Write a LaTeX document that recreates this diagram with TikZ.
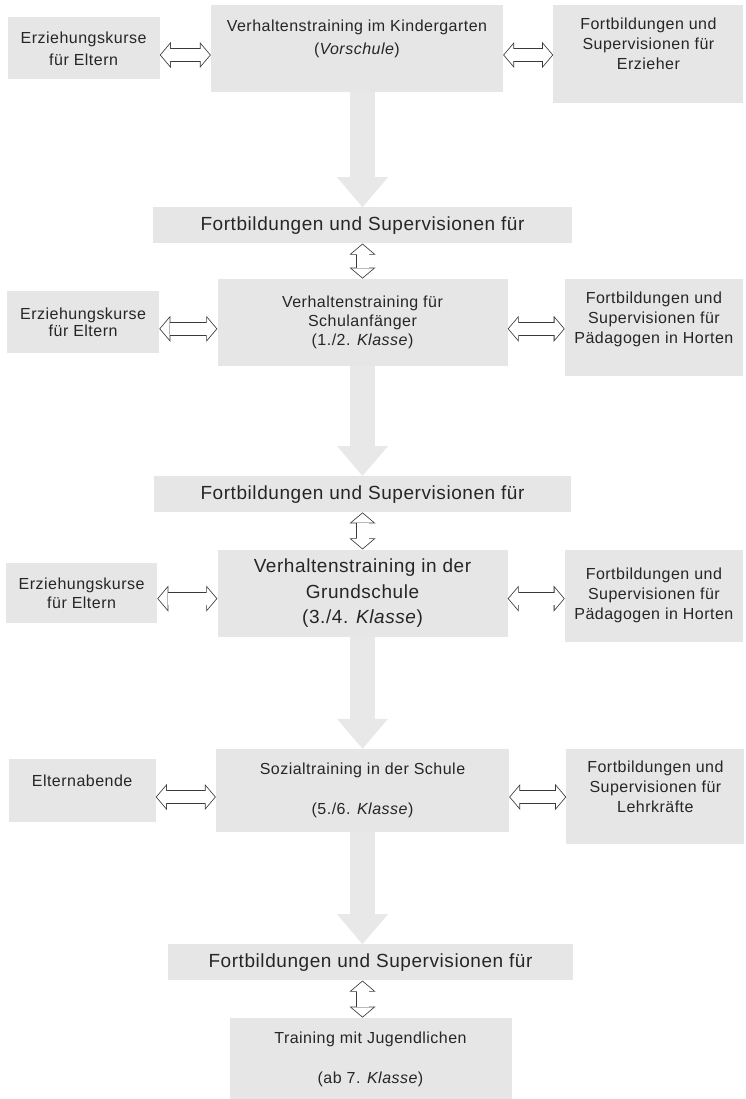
\documentclass[tikz,border=0pt]{standalone}
\usepackage{fontspec}
\setmainfont{Liberation Sans}[LetterSpace=3.0]
\usepackage{tikz}
\usetikzlibrary{arrows.meta,positioning}
\definecolor{boxgray}{HTML}{E6E6E6}
\definecolor{arrowgray}{HTML}{E8E8E8}
\definecolor{ink}{HTML}{262626}
\definecolor{rim}{HTML}{3A3A3A}

\begin{document}
\begin{tikzpicture}[
  x=1pt, y=1pt,
  font=\fontsize{16}{20}\selectfont,
  text=ink,
  box/.style={
    fill=boxgray,
    align=center,
    inner sep=2pt
  },
  side/.style={
    box,
    minimum width=152pt,
    minimum height=62pt
  },
  hort/.style={
    box,
    minimum width=178pt
  },
  bar/.style={
    box,
    minimum width=419pt,
    minimum height=36pt,
    font=\fontsize{19}{23}\selectfont
  },
  flow/.style={-{Triangle[width=51pt,length=30pt,line width=0pt]},line width=25pt,draw=arrowgray},
  link/.style={
    {Triangle[width=26pt,length=11pt,line width=0pt]}-{Triangle[width=26pt,length=11pt,line width=0pt]},
    draw=rim,line width=13.6pt,
    postaction={draw=white,line width=12pt,shorten <=1.05pt,shorten >=1.05pt,
      {Triangle[width=21.6pt,length=9.15pt,line width=0pt]}-{Triangle[width=21.6pt,length=9.15pt,line width=0pt]}}
  }
]
\useasboundingbox (0,0) rectangle (745,-1099);

\node[box,minimum width=292pt,minimum height=87pt,font=\fontsize{16}{23}\selectfont] (kiga) at (357,-48.5) {Verhaltenstraining im Kindergarten\\(\textit{Vorschule})\\~};
\node[side,left=51pt of kiga,font=\fontsize{16}{22}\selectfont] (eltern1) {Erziehungskurse\\für Eltern};
\node[hort,minimum width=190pt,minimum height=98pt,right=50pt of kiga.north east,anchor=north west] (erz1) {Fortbildungen und\\Supervisionen für\\Erzieher\\~};

\node[bar,below=115pt of kiga,xshift=5.5pt] (fb1) {Fortbildungen und Supervisionen für};

\node[box,minimum width=290pt,minimum height=87pt,below=35pt of fb1,font=\fontsize{16}{19}\selectfont] (schul) {Verhaltenstraining für\\Schulanfänger\\(1./2. \textit{Klasse})};
\node[side,left=58pt of schul,font=\fontsize{16}{17.5}\selectfont] (eltern2) {Erziehungskurse\\für Eltern};
\node[hort,minimum height=97pt,right=57pt of schul.north east,anchor=north west] (hort2) {Fortbildungen und\\Supervisionen für\\Pädagogen in Horten\\~};

\node[bar,minimum width=417pt,below=110pt of schul] (fb2) {Fortbildungen und Supervisionen für};

\node[box,minimum width=290pt,minimum height=87pt,below=37pt of fb2,font=\fontsize{19}{25.5}\selectfont] (grund) {Verhaltenstraining in der\\Grundschule\\(3./4. \textit{Klasse})};
\node[side,minimum width=151pt,minimum height=60pt,left=60pt of grund,font=\fontsize{16}{19}\selectfont] (eltern3) {Erziehungskurse\\für Eltern};
\node[hort,minimum height=92pt,right=57pt of grund.north east,anchor=north west] (hort3) {Fortbildungen und\\Supervisionen für\\Pädagogen in Horten};

\node[box,minimum width=293pt,minimum height=83pt,below=112pt of grund] (sozial) {Sozialtraining in der Schule\\~\\(5./6. \textit{Klasse})};
\node[side,minimum width=147pt,minimum height=63pt,left=60pt of sozial] (abend) {Elternabende\\~};
\node[hort,minimum height=95pt,right=57pt of sozial.north east,anchor=north west] (lehr) {Fortbildungen und\\Supervisionen für\\Lehrkräfte\\~};

\node[bar,minimum width=405pt,below=112pt of sozial,xshift=8pt] (fb3) {Fortbildungen und Supervisionen für};
\node[box,minimum width=282pt,minimum height=84pt,below=37pt of fb3] (jug) {Training mit Jugendlichen\\~\\(ab 7. \textit{Klasse})};

% big arrows down the middle
\draw[flow] (kiga.south -| fb1.north) -- (fb1.north);
\draw[flow] (schul.south) -- (schul.south |- fb2.north);
\draw[flow] (grund.south) -- (grund.south |- sozial.north);
\draw[flow] (sozial.south) -- (sozial.south |- fb3.north);

% small links between bar and box
\draw[link] (fb1.south) -- (schul.north);
\draw[link] (grund.north |- fb2.south) -- (grund.north);
\draw[link] (fb3.south -| sozial.south) -- (jug.north -| sozial.south);

% side links
\draw[link] ([yshift=-6.5pt]eltern1.east) -- ([yshift=-6.5pt]kiga.west);
\draw[link] ([yshift=-6.5pt]kiga.east) -- ([yshift=-6.5pt]kiga.east -| erz1.west);
\draw[link] ([yshift=-6.5pt]eltern2.east) -- ([yshift=-6.5pt]schul.west);
\draw[link] ([yshift=-6.5pt]schul.east) -- ([yshift=-6.5pt]schul.east -| hort2.west);
\draw[link] ([yshift=-5.5pt]eltern3.east) -- ([yshift=-5.5pt]grund.west);
\draw[link] ([yshift=-5.5pt]grund.east) -- ([yshift=-5.5pt]grund.east -| hort3.west);
\draw[link] ([yshift=-6.5pt]abend.east) -- ([yshift=-6.5pt]sozial.west);
\draw[link] ([yshift=-6.5pt]sozial.east) -- ([yshift=-6.5pt]sozial.east -| lehr.west);
\end{tikzpicture}
\end{document}
